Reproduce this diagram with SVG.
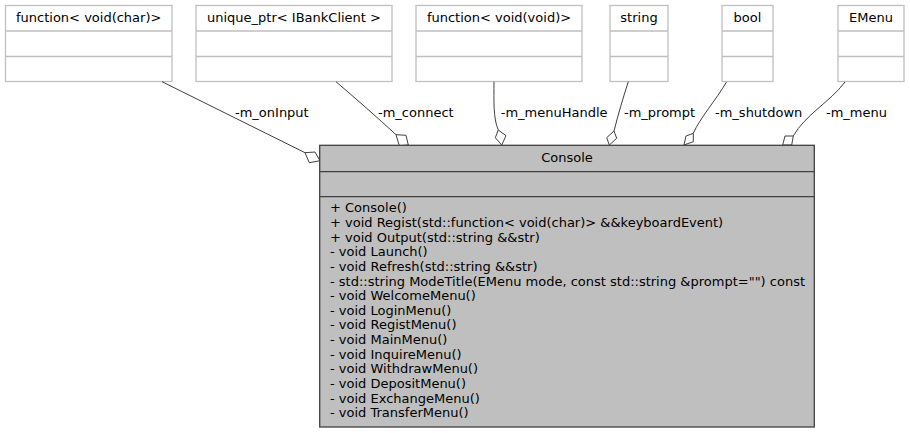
<svg xmlns="http://www.w3.org/2000/svg" width="910" height="433" viewBox="0 0 910 433">
<style>
text{font-family:"DejaVu Sans",sans-serif;font-size:13px;fill:#000}
.c{text-anchor:middle}
.tb rect{fill:#fff;stroke:#bfbfbf;stroke-width:1.3}
.tb line{stroke:#bfbfbf;stroke-width:1.3}
.main rect{fill:#bfbfbf;stroke:#404040;stroke-width:1.3}
.main line{stroke:#404040;stroke-width:1.3}
.e path{fill:none;stroke:#404040;stroke-width:1}
.e polygon{fill:#fff;stroke:#404040;stroke-width:1}
</style>
<rect width="910" height="433" fill="#fff"/>
<g id="n_func_char" class="tb">
<rect x="5.5" y="5.5" width="166.5" height="76"/>
<line x1="5.5" y1="31" x2="172" y2="31"/><line x1="5.5" y1="56.5" x2="172" y2="56.5"/>
<text class="c" x="88.7" y="22">function&lt; void(char)&gt;</text>
</g>
<g id="n_unique_ptr" class="tb">
<rect x="196" y="5.5" width="196" height="76"/>
<line x1="196" y1="31" x2="392" y2="31"/><line x1="196" y1="56.5" x2="392" y2="56.5"/>
<text class="c" x="294" y="22">unique_ptr&lt; IBankClient &gt;</text>
</g>
<g id="n_func_void" class="tb">
<rect x="416" y="5.5" width="166" height="76"/>
<line x1="416" y1="31" x2="582" y2="31"/><line x1="416" y1="56.5" x2="582" y2="56.5"/>
<text class="c" x="499" y="22">function&lt; void(void)&gt;</text>
</g>
<g id="n_string" class="tb">
<rect x="610" y="5.5" width="58" height="76"/>
<line x1="610" y1="31" x2="668" y2="31"/><line x1="610" y1="56.5" x2="668" y2="56.5"/>
<text class="c" x="639" y="22">string</text>
</g>
<g id="n_bool" class="tb">
<rect x="722" y="5.5" width="51" height="76"/>
<line x1="722" y1="31" x2="773" y2="31"/><line x1="722" y1="56.5" x2="773" y2="56.5"/>
<text class="c" x="747.5" y="22">bool</text>
</g>
<g id="n_emenu" class="tb">
<rect x="838" y="5.5" width="66" height="76"/>
<line x1="838" y1="31" x2="904" y2="31"/><line x1="838" y1="56.5" x2="904" y2="56.5"/>
<text class="c" x="871" y="22">EMenu</text>
</g>
<g id="edges" class="e">
<path d="M162,81.7 L305,152.7"/>
<polygon points="305,152.7 315,152 320,160.7 309.3,162.7"/>
<text x="235" y="117">-m_onInput</text>
<path d="M336,81.7 C355,98 378,118 396,134.7"/>
<polygon points="396,134.7 406,135.3 408.3,145 399.3,145.7"/>
<text x="378" y="117">-m_connect</text>
<path d="M494,81.7 C494,100 493,118 498.3,130"/>
<polygon points="498.3,130 506,135.7 501.7,145 495.3,137.7"/>
<text x="500.7" y="117">-m_menuHandle</text>
<path d="M628.3,81.7 C623,98 618,115 614,131"/>
<polygon points="614,131 616.7,138.3 609.3,145 606.7,137.7"/>
<text x="624" y="117">-m_prompt</text>
<path d="M726.5,82 C716,100 700,118 693.3,133.3"/>
<polygon points="693.3,133.3 693.3,141.7 684,145 686,136"/>
<text x="715" y="117">-m_shutdown</text>
<path d="M845,82 C830,102 805,115 793.3,136"/>
<polygon points="793.3,136 791.7,145 782.7,145 785,136"/>
<text x="826" y="117">-m_menu</text>
</g>
<g id="n_console" class="main">
<rect x="319.7" y="145.3" width="494.6" height="281.7"/>
<line x1="319.7" y1="171.7" x2="814.3" y2="171.7"/>
<line x1="319.7" y1="196.7" x2="814.3" y2="196.7"/>
<text class="c" x="567" y="161.5">Console</text>
<text x="330">
<tspan x="330" y="212.3">+ Console()</tspan>
<tspan x="330" y="226.9">+ void Regist(std::function&lt; void(char)&gt; &amp;&amp;keyboardEvent)</tspan>
<tspan x="330" y="241.6">+ void Output(std::string &amp;&amp;str)</tspan>
<tspan x="330" y="256.2">- void Launch()</tspan>
<tspan x="330" y="270.9">- void Refresh(std::string &amp;&amp;str)</tspan>
<tspan x="330" y="285.5">- std::string ModeTitle(EMenu mode, const std::string &amp;prompt="") const</tspan>
<tspan x="330" y="300.1">- void WelcomeMenu()</tspan>
<tspan x="330" y="314.8">- void LoginMenu()</tspan>
<tspan x="330" y="329.4">- void RegistMenu()</tspan>
<tspan x="330" y="344.1">- void MainMenu()</tspan>
<tspan x="330" y="358.7">- void InquireMenu()</tspan>
<tspan x="330" y="373.3">- void WithdrawMenu()</tspan>
<tspan x="330" y="388">- void DepositMenu()</tspan>
<tspan x="330" y="402.6">- void ExchangeMenu()</tspan>
<tspan x="330" y="417.3">- void TransferMenu()</tspan>
</text>
</g>
</svg>
